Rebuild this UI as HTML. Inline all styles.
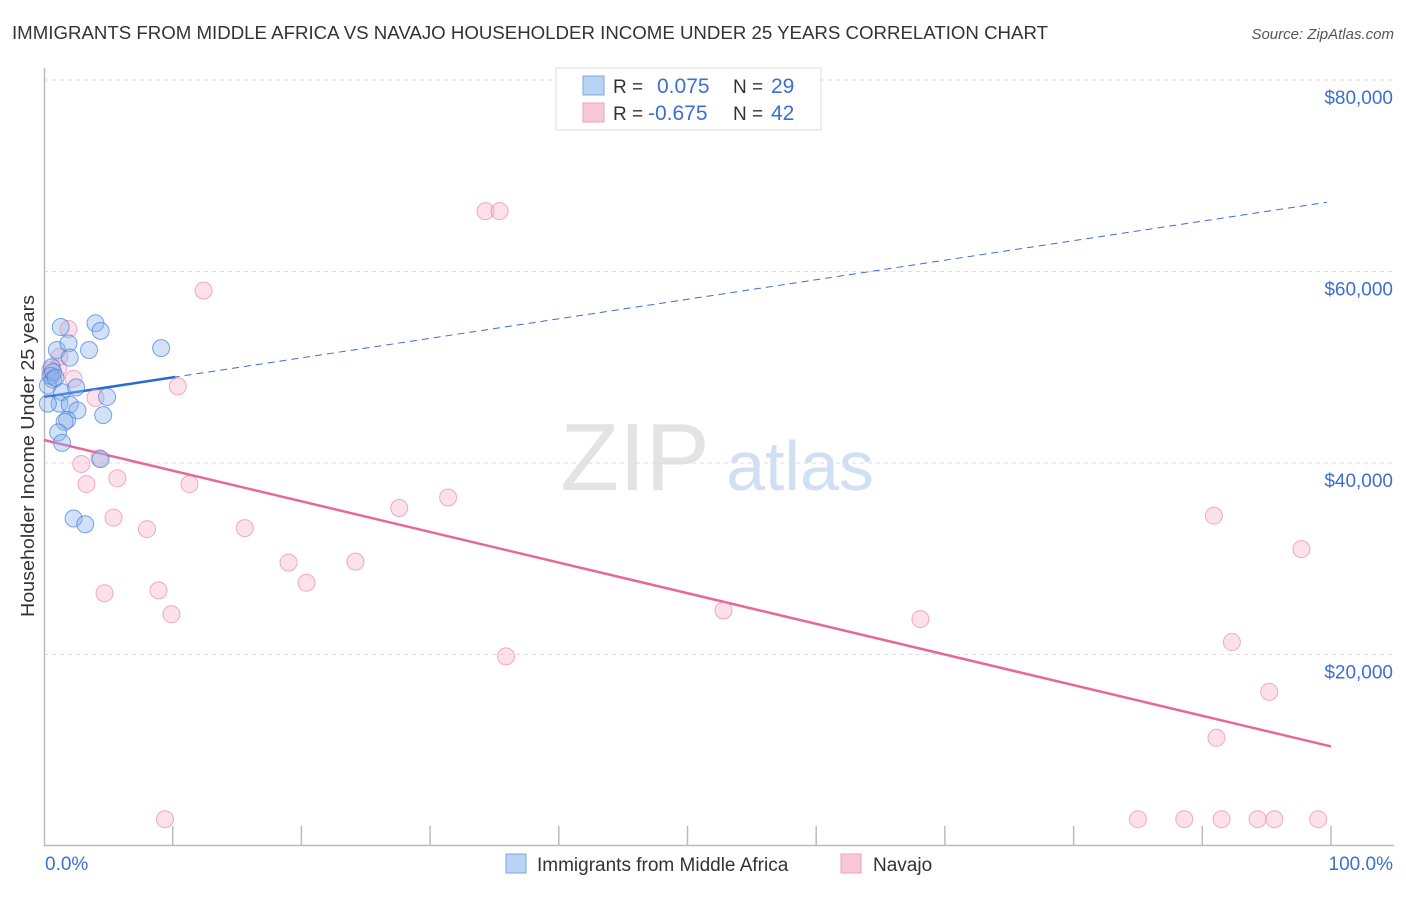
<!DOCTYPE html>
<html><head><meta charset="utf-8"><style>
body{margin:0;background:#fff;font-family:"Liberation Sans",sans-serif;}
svg text{font-family:"Liberation Sans",sans-serif;}
</style></head><body>
<svg id="c" width="1406" height="892" viewBox="0 0 1406 892">
<text x="12" y="39" font-size="18" fill="#333" textLength="1036" lengthAdjust="spacingAndGlyphs">IMMIGRANTS FROM MIDDLE AFRICA VS NAVAJO HOUSEHOLDER INCOME UNDER 25 YEARS CORRELATION CHART</text>
<text x="1394" y="39" font-size="15" fill="#555" font-style="italic" text-anchor="end">Source: ZipAtlas.com</text>
<text transform="translate(34,456) rotate(-90)" font-size="18" fill="#333" text-anchor="middle" textLength="322" lengthAdjust="spacingAndGlyphs">Householder Income Under 25 years</text>
<g><text x="635" y="490" font-size="96" fill="#ddd" font-family="Liberation Serif" text-anchor="middle" opacity="0.8">ZIP</text><text x="800" y="490" font-size="70" fill="#c6d8ef" text-anchor="middle" opacity="0.8">atlas</text></g>
<g id="grid"></g><g id="axes"></g><g id="trend"></g><g id="pts"></g>
<g>
<rect x="556" y="68" width="265" height="62" fill="#fff" stroke="#ddd"/>
<rect x="583" y="76" width="21" height="19" fill="#b9d3f5" stroke="#7fa6e0"/>
<rect x="583" y="103" width="21" height="19" fill="#f9c8d6" stroke="#eda0b8"/>
<text x="613" y="93" font-size="19" fill="#333">R =</text><text x="657" y="93" font-size="21" fill="#3d6fd1">0.075</text>
<text x="733" y="93" font-size="19" fill="#333">N =</text><text x="771" y="93" font-size="21" fill="#3d6fd1">29</text>
<text x="613" y="120" font-size="19" fill="#333">R =</text><text x="648" y="120" font-size="21" fill="#3d6fd1">-0.675</text>
<text x="733" y="120" font-size="19" fill="#333">N =</text><text x="771" y="120" font-size="21" fill="#3d6fd1">42</text>
</g>
<g>
<rect x="506" y="854" width="20" height="19" fill="#b9d3f5" stroke="#7fa6e0"/>
<text x="537" y="871" font-size="19" fill="#333">Immigrants from Middle Africa</text>
<rect x="841" y="854" width="20" height="19" fill="#f9c8d6" stroke="#eda0b8"/>
<text x="873" y="871" font-size="19" fill="#333">Navajo</text>
</g>
</svg>
<script>
const blueX=[1.3,4.0,4.4,1.0,1.9,3.5,2.0,9.1,0.6,0.5,0.7,0.3,1.4,2.5,4.9,1.2,0.3,2.0,2.6,1.8,1.6,4.6,1.1,1.4,4.4,2.3,3.2,0.7,0.9];
const blueY=[54200,54600,53800,51800,52500,51800,51000,52000,50000,49100,48700,48100,47400,47900,46900,46200,46200,46100,45500,44500,44300,45000,43200,42100,40400,34200,33600,49500,48900];
const pinkX=[1.9,1.2,1.1,0.5,0.6,2.3,10.4,4.0,2.9,4.3,3.3,5.7,5.4,8.0,11.3,4.7,8.9,9.9,12.4,34.3,35.4,15.6,19.0,20.4,24.2,27.6,31.4,35.9,52.8,68.1,90.9,97.7,92.3,95.2,91.1,9.4,85.0,88.6,91.5,94.3,95.6,99.0];
const pinkY=[54000,51100,49900,49700,49100,48800,48000,46800,39900,40500,37800,38400,34300,33100,37800,26400,26700,24200,58000,66300,66300,33200,29600,27500,29700,35300,36400,19800,24600,23700,34500,31000,21300,16100,11300,2800,2800,2800,2800,2800,2800,2800];
const yTicks=[20000,40000,60000,80000];
const yTickLabels=["$20,000","$40,000","$60,000","$80,000"];
const xTicks=[0,10,20,30,40,50,60,70,80,90,100];
const blueTrend=[46900,67300];
const pinkTrend=[42400,10400];
const NS="http://www.w3.org/2000/svg";
const X=v=>44+v*12.87, Y=v=>846-v/20000*191.5;
function mk(p,t,a){const e=document.createElementNS(NS,t);for(const k in a)e.setAttribute(k,a[k]);p.appendChild(e);return e;}
const g=document.getElementById('grid'),ax=document.getElementById('axes'),tr=document.getElementById('trend'),pts=document.getElementById('pts');
yTicks.forEach((v,i)=>{
 const l=mk(g,'line',{x1:44,x2:1394,y1:Y(v),y2:Y(v),stroke:'#ddd','stroke-dasharray':'4,4'});
 
 
 const t=mk(g,'text',{x:1393,y:Y(v)+24,'font-size':19,fill:'#3d6fd1','text-anchor':'end'});
 t.textContent=yTickLabels[i];
 
 
});
const yl=mk(ax,'line',{x1:44.5,x2:44.5,y1:68,y2:846,stroke:'#bbb','stroke-width':1.5});


const xl=mk(ax,'line',{x1:44,x2:1394,y1:845.5,y2:845.5,stroke:'#bbb','stroke-width':1.5});


xTicks.slice(1).forEach(v=>{
 const t=mk(ax,'line',{x1:X(v),x2:X(v),y1:826,y2:846,stroke:'#bbb','stroke-width':1.5});
 
 
});
const x0=mk(ax,'text',{x:45,y:870,'font-size':19,fill:'#3d6fd1'});x0.textContent='0.0%';


const x1=mk(ax,'text',{x:1393,y:870,'font-size':19,fill:'#3d6fd1','text-anchor':'end'});x1.textContent='100.0%';


const bAt=x=>blueTrend[0]+(blueTrend[1]-blueTrend[0])*x/100, pAt=x=>pinkTrend[0]+(pinkTrend[1]-pinkTrend[0])*x/100;
const pl=mk(tr,'line',{x1:X(0),y1:Y(pAt(0)),x2:X(100),y2:Y(pAt(100)),stroke:'#e8679a','stroke-width':2.5});


const bd=mk(tr,'line',{x1:X(10),y1:Y(bAt(10)),x2:X(99.7),y2:Y(bAt(99.7)),stroke:'#3d6fd1','stroke-width':1,'stroke-dasharray':'7,5'});


const bs=mk(tr,'line',{x1:X(0),y1:Y(bAt(0)),x2:X(10.2),y2:Y(bAt(10.2)),stroke:'#2a6ad6','stroke-width':2.5});


pinkX.forEach((v,i)=>{
 const c=mk(pts,'circle',{cx:X(v),cy:Y(pinkY[i]),r:8.5,fill:'rgba(246,170,196,0.35)',stroke:'rgba(232,120,160,0.6)','stroke-width':1});
 
 
});
blueX.forEach((v,i)=>{
 const c=mk(pts,'circle',{cx:X(v),cy:Y(blueY[i]),r:8.5,fill:'rgba(140,180,235,0.4)',stroke:'rgba(60,120,220,0.65)','stroke-width':1});
 
 
});
</script>
</body></html>
